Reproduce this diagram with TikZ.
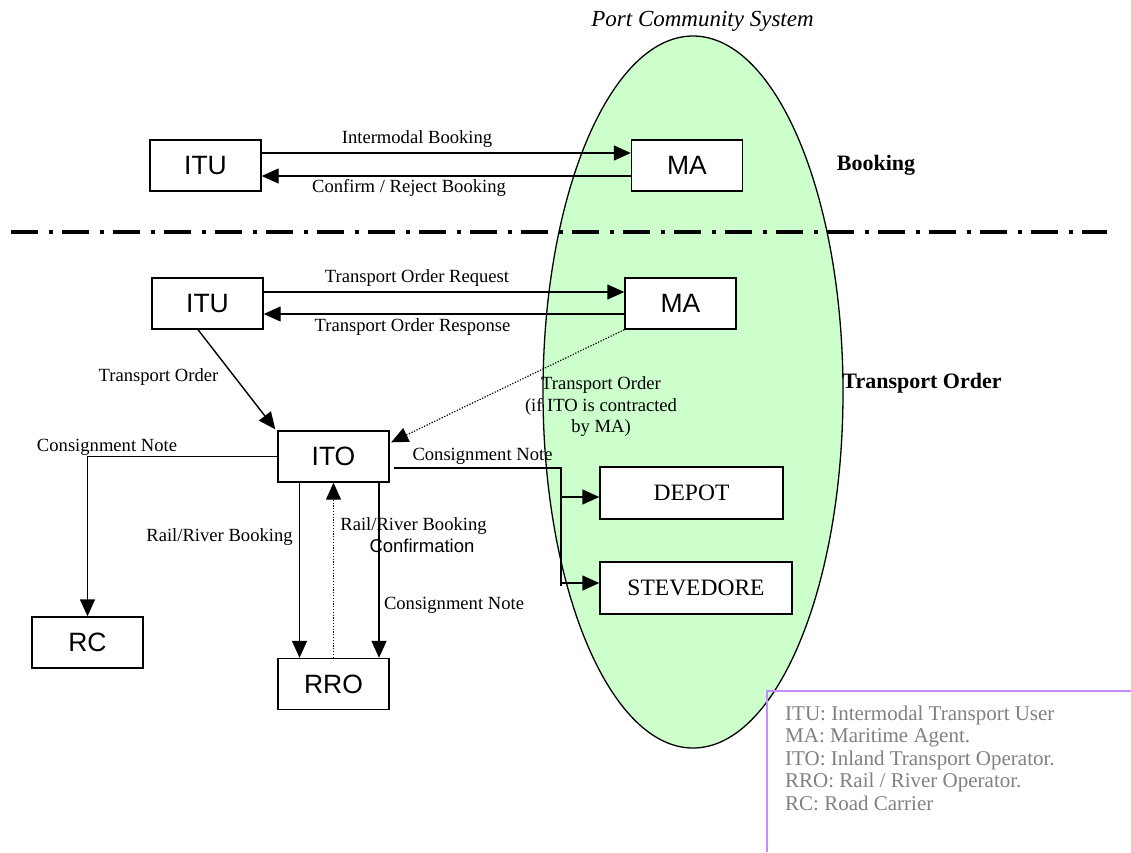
\documentclass[tikz,border=0pt]{standalone}
\usepackage{fontspec}
\setmainfont{Liberation Serif}
\newfontfamily\arialfont{Liberation Sans}
\usetikzlibrary{arrows.meta,calc}
\definecolor{pcsgreen}{HTML}{CCFFCC}
\definecolor{legendline}{HTML}{C58BFF}
\definecolor{legendtext}{HTML}{808080}

\tikzset{
  actor/.style={draw, fill=white, line width=1.4pt, minimum width=111pt, minimum height=51pt,
    inner sep=0pt, font=\arialfont\fontsize{26.5}{30}\selectfont},
  portbox/.style={draw, fill=white, line width=1.4pt, minimum height=52pt, inner sep=0pt,
    font=\fontsize{23.5}{27}\selectfont},
  msg/.style={inner sep=0pt, font=\fontsize{18.6}{21.5}\selectfont},
  msgsans/.style={inner sep=0pt, font=\arialfont\fontsize{18.5}{21.5}\selectfont},
  phase/.style={inner sep=0pt, font=\bfseries\fontsize{22}{26}\selectfont},
  legendentry/.style={inner sep=0pt, anchor=base west, text=legendtext,
    font=\fontsize{21}{22.5}\selectfont},
  flow/.style={line width=1.4pt, -{Triangle[length=17pt,width=15pt]}},
  dotflow/.style={flow, line width=1.2pt, dash pattern=on 1.2pt off 1.6pt},
}

\begin{document}
\begin{tikzpicture}[x=1pt,y=-1pt]
\useasboundingbox (0,0) rectangle (1131,852);

% Port Community System region
\draw[fill=pcsgreen, line width=1.3pt] (693,392) ellipse [x radius=150pt, y radius=356pt];
\node[inner sep=0pt, font=\itshape\fontsize{23}{26}\selectfont] (pcs) at (702.5,21) {Port Community System};

% phase separator
\draw[line width=3.3pt, dash pattern=on 27pt off 10.5pt on 4pt off 9.5pt] (11,232) -- (1107,232);

% phase titles
\node[phase] (tbooking) at (876,165) {Booking};
\node[phase] (torder) at (922,383) {Transport Order};

% participants
\node[actor] (itu1) at (205.5,165.5) {ITU};
\node[actor] (ma1)  at (687,165.5) {MA};
\node[actor] (itu2) at (207.5,303.5) {ITU};
\node[actor] (ma2)  at (680.5,303.5) {MA};
\node[actor] (ito)  at (333.5,456.5) {ITO};
\node[actor] (rro)  at (333.5,684) {RRO};
\node[actor] (rc)   at (87.5,642.5) {RC};
\node[portbox, minimum width=183pt] (depot) at (691.5,493) {DEPOT};
\node[portbox, minimum width=192pt] (stev)  at (696,588) {STEVEDORE};

% booking phase
\draw[flow] ($(itu1.east)+(0,-12.5)$) -- ($(ma1.west)+(0,-12.5)$);
\draw[flow] ($(ma1.west)+(0,10.5)$) -- ($(itu1.east)+(0,10.5)$);
\node[msg] (lib) at (417,139) {Intermodal Booking};
\node[msg] (lcr) at (409,188) {Confirm / Reject Booking};

% transport order phase
\draw[flow] ($(itu2.east)+(0,-11.5)$) -- ($(ma2.west)+(0,-11.5)$);
\draw[flow] ($(ma2.west)+(0,10.5)$) -- ($(itu2.east)+(0,10.5)$);
\node[msg] (ltoq) at (417,278) {Transport Order Request};
\node[msg] (ltor) at (412.5,327) {Transport Order Response};

\draw[flow] ($(itu2.south)+(-9.5,0)$) -- ($(ito.north west)+(-2,-1)$);
\node[msg] (lto) at (158.5,377) {Transport Order};

\draw[dotflow] (ma2.south west) -- ($(ito.north east)+(1.5,12)$);
\node[msg, align=center] (ltoma) at (601,407) {Transport Order\\(if ITO is contracted\\by MA)};

% consignment note to road carrier
\draw[flow] (ito.west) -- (rc.north |- ito.west) -- (rc.north);
\node[msg] (lcnrc) at (107,447) {Consignment Note};

% rail / river operator
\draw[flow] ($(ito.south)+(-34,0)$) -- ($(rro.north)+(-34,0)$);
\draw[dotflow] (rro.north) -- (ito.south);
\draw[flow] ($(ito.south)+(45.5,0)$) -- ($(rro.north)+(45.5,0)$);
\node[msg] (lrrb) at (219.5,537) {Rail/River Booking};
\node[msg] (lrrc) at (413.5,526) {Rail/River Booking};
\node[msgsans] (lconf) at (422,546) {Confirmation};
\node[msg] (lcnrro) at (454,605) {Consignment Note};

% consignment note to depot and stevedore
\coordinate (cnstart) at ($(ito.east)+(4,11.5)$);
\coordinate (cnsplit) at (561,468);
\coordinate (cnend) at (561,586);
\coordinate (cndepot) at (561,497);
\coordinate (cnstev) at (561,583);
\draw[line width=1.4pt] (cnstart) -- (cnsplit) -- (cnend);
\draw[flow] (cndepot) -- (cndepot -| depot.west);
\draw[flow] (cnstev) -- (cnstev -| stev.west);
\node[msg] (lcnport) at (482.5,456) {Consignment Note};

% abbreviations
\coordinate (legtr) at (1131,691);
\coordinate (legtl) at (767,691);
\coordinate (legbl) at (767,852);
\draw[legendline, line width=1.2pt] (legtr) -- (legtl) -- (legbl);
\node[legendentry] (leg1) at (785,720) {ITU: Intermodal Transport User};
\node[legendentry] (leg2) at (785,742.5) {MA: Maritime Agent.};
\node[legendentry] (leg3) at (785,765) {ITO: Inland Transport Operator.};
\node[legendentry] (leg4) at (785,787.5) {RRO: Rail / River Operator.};
\node[legendentry] (leg5) at (785,810) {RC: Road Carrier};
\end{tikzpicture}
\end{document}
